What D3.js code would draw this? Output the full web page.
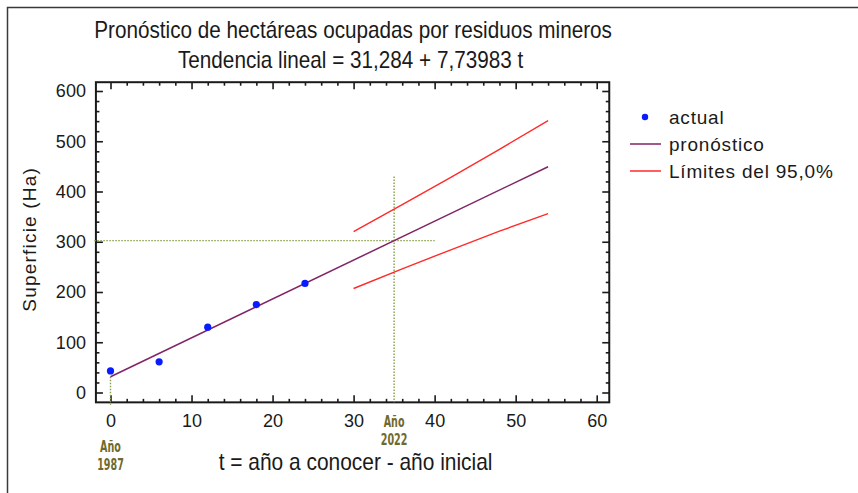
<!DOCTYPE html>
<html>
<head>
<meta charset="utf-8">
<script src="https://cdn.jsdelivr.net/npm/d3@7"></script>
<style>
  html, body { margin: 0; padding: 0; background: #fff; }
  svg { display: block; }
  .tick text { font-family: "Liberation Sans", Arial, sans-serif; font-size: 18px; fill: #1a1a1a; }
</style>
</head>
<body>
<svg id="chart" width="858" height="493"></svg>
<script>
// Observed surface (ha) at t = years since 1987
const tActual = [0, 6, 12, 18, 24];
const superficie = [43, 61, 130, 175, 217];

// Linear trend: 31,284 + 7,73983 t
const intercept = 31.284;
const slope = 7.73983;
const tFit = [0, 54];

// 95% prediction limits over the forecast horizon
const tLimits = [30, 36, 42, 48, 54];
const limSup = [320, 374, 428, 484, 541];
const limInf = [207, 246, 284, 321, 356];

// Target year marker
const tObjetivo = 35;
const yearLabels = [{ t: 0, anio: "1987" }, { t: 35, anio: "2022" }];

const xTicks = [0, 10, 20, 30, 40, 50, 60];
const yTicks = [0, 100, 200, 300, 400, 500, 600];

const svg = d3.select("#chart");
svg.append("rect").attr("width", 858).attr("height", 493).attr("fill", "#fff");

// outer window edge (left and top)
svg.append("path")
  .attr("d", "M7.5,493 V7.5 H858")
  .attr("fill", "none").attr("stroke", "#3a3a3a").attr("stroke-width", 1.5);

const x = d3.scaleLinear().domain([0, 60]).range([110.5, 596.7]);
const y = d3.scaleLinear().domain([0, 600]).range([392.5, 91]);
const xLo = -1.8, xHi = 61.55, yLo = -19.6, yHi = 617.5;
const pLeft = x(xLo), pRight = x(xHi), pTop = y(yHi), pBottom = y(yLo);

const ink = "#1a1a1a";
const guide = "#86a04a";
const fitColor = "#812466";
const limColor = "#ff2a2a";
const ptColor = "#0a1cff";
const yearColor = "#6f6a2c";

// axes: major + minor ticks pointing inward on all four sides
const minorX = d3.range(0, 61, 2).filter(v => v % 10 !== 0);
const minorY = d3.range(0, 601, 20).filter(v => v % 100 !== 0);

function axisSet(gen, scale, pos, majors, minors, labels, pad) {
  const gMaj = svg.append("g").attr("transform", pos)
    .call(gen(scale).tickValues(majors).tickSize(-7).tickPadding(pad)
      .tickFormat(labels ? d3.format("d") : ""));
  const gMin = svg.append("g").attr("transform", pos)
    .call(gen(scale).tickValues(minors).tickSize(-3.5).tickFormat(""));
  [gMaj, gMin].forEach(g => {
    g.select(".domain").remove();
    g.selectAll("line").attr("stroke", ink).attr("stroke-width", 1.6);
  });
}
axisSet(d3.axisBottom, x, `translate(0,${pBottom})`, xTicks, minorX, true, 12);
axisSet(d3.axisTop, x, `translate(0,${pTop})`, xTicks, minorX, false, 0);
axisSet(d3.axisLeft, y, `translate(${pLeft},0)`, yTicks, minorY, true, 10);
axisSet(d3.axisRight, y, `translate(${pRight},0)`, yTicks, minorY, false, 0);

svg.append("rect")
  .attr("x", pLeft).attr("y", pTop)
  .attr("width", pRight - pLeft).attr("height", pBottom - pTop)
  .attr("fill", "none").attr("stroke", ink).attr("stroke-width", 2);

// dotted guides for the target year
const yObj = intercept + slope * tObjetivo;
const yFit0 = intercept;
const guides = [
  [[xLo - 0.2, yObj], [40, yObj]],
  [[tObjetivo, 430], [tObjetivo, yLo]],
  [[0, yFit0], [0, yLo - 5]]
];
const line = d3.line().x(d => x(d[0])).y(d => y(d[1]));
svg.append("g").selectAll("path").data(guides).join("path")
  .attr("d", line)
  .attr("fill", "none").attr("stroke", guide).attr("stroke-width", 1.4)
  .attr("stroke-dasharray", "1.5,1.5");

// prediction limits
[limSup, limInf].forEach(vals => {
  svg.append("path")
    .attr("d", line(tLimits.map((t, i) => [t, vals[i]])))
    .attr("fill", "none").attr("stroke", limColor).attr("stroke-width", 1.4);
});

// fitted trend
svg.append("path")
  .attr("d", line(tFit.map(t => [t, intercept + slope * t])))
  .attr("fill", "none").attr("stroke", fitColor).attr("stroke-width", 1.5);

// observed points
svg.append("g").selectAll("circle").data(tActual).join("circle")
  .attr("cx", d => x(d)).attr("cy", (d, i) => y(superficie[i]))
  .attr("r", 3.6).attr("fill", ptColor);

// year annotations (condensed bold)
const yl = svg.append("g")
  .attr("font-family", "'DejaVu Sans', sans-serif")
  .attr("font-weight", "bold").attr("font-size", 16)
  .attr("fill", yearColor).attr("text-anchor", "middle");
yearLabels.forEach(d => {
  const base = d.t === 0 ? 452 : 427;
  [["Año", base], [d.anio, base + 18]].forEach(([txt, yy]) => {
    yl.append("text")
      .attr("transform", `translate(${x(d.t)},${yy}) scale(0.6,1)`)
      .text(txt);
  });
});

// titles (condensed)
const cx = (pLeft + pRight) / 2;
function condensed(txt, px, py, size, sx) {
  svg.append("text")
    .attr("transform", `translate(${px},${py}) scale(${sx},1)`)
    .attr("text-anchor", "middle")
    .attr("font-family", "'Liberation Sans', Arial, sans-serif")
    .attr("font-size", size).attr("fill", ink)
    .text(txt);
}
condensed("Pronóstico de hectáreas ocupadas por residuos mineros", cx + 0.5, 38, 23, 0.9);
condensed("Tendencia lineal = 31,284 + 7,73983 t", cx - 2, 68, 23, 0.9);
condensed("t = año a conocer - año inicial", cx + 3, 470, 23, 0.91);

svg.append("text")
  .attr("transform", `translate(36,${(pTop + pBottom) / 2 - 3}) rotate(-90)`)
  .attr("text-anchor", "middle")
  .attr("font-family", "'Liberation Sans', Arial, sans-serif")
  .attr("font-size", 19).attr("letter-spacing", 1.2).attr("fill", ink)
  .text("Superficie (Ha)");

// legend
const lg = svg.append("g").attr("font-family", "'Liberation Sans', Arial, sans-serif")
  .attr("font-size", 19).attr("letter-spacing", 0.8).attr("fill", ink);
const legendItems = [
  { label: "actual", kind: "dot", color: ptColor },
  { label: "pronóstico", kind: "line", color: fitColor },
  { label: "Límites del 95,0%", kind: "line", color: limColor }
];
legendItems.forEach((d, i) => {
  const cy = 117 + i * 27;
  if (d.kind === "dot") {
    lg.append("circle").attr("cx", 645).attr("cy", cy).attr("r", 3.2).attr("fill", d.color);
  } else {
    lg.append("line").attr("x1", 630).attr("x2", 661).attr("y1", cy).attr("y2", cy)
      .attr("stroke", d.color).attr("stroke-width", 1.5);
  }
  lg.append("text").attr("x", 669).attr("y", cy + 7).text(d.label);
});
</script>
</body>
</html>
